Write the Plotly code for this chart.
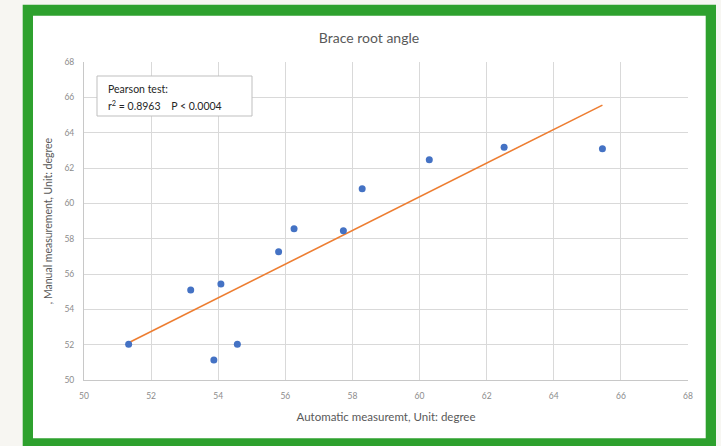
import numpy as np
import plotly.graph_objects as go

# Automatic vs. manual brace root angle measurements (degrees)
auto_deg = [51.33, 53.87, 54.57, 53.18, 54.08, 55.80, 56.26, 57.73, 58.29, 60.29, 62.52, 65.45]
manual_deg = [52.02, 51.13, 52.02, 55.09, 55.43, 57.26, 58.56, 58.45, 60.83, 62.47, 63.17, 63.09]
tick_vals = [50, 52, 54, 56, 58, 60, 62, 64, 66, 68]

# Least-squares trend line across the range of the automatic values
slope, intercept = np.polyfit(auto_deg, manual_deg, 1)
trend_x = [min(auto_deg), max(auto_deg)]
trend_y = [slope * v + intercept for v in trend_x]

W, H = 721, 446
ML, MR, MT, MB = 84, 33, 62, 66
PW, PH = W - ML - MR, H - MT - MB


def px(x):
    return (x - ML) / PW


def py(y):
    return (H - MB - y) / PH


fig = go.Figure()
fig.add_trace(go.Scatter(x=trend_x, y=trend_y, mode="lines",
                         line=dict(color="#ED7D31", width=1.6), hoverinfo="skip"))
fig.add_trace(go.Scatter(x=auto_deg, y=manual_deg, mode="markers",
                         marker=dict(color="#4472C4", size=7)))

font_family = "Lato, 'Open Sans', sans-serif"
axis_common = dict(range=[50, 68], tickvals=tick_vals, showgrid=True, gridcolor="#d9d9d9",
                   gridwidth=1, zeroline=False, showline=True, linecolor="#c8c8c8",
                   ticks="outside", tickcolor="rgba(0,0,0,0)",
                   tickfont=dict(size=8.5, color="#8c8c8c", family=font_family), fixedrange=True)

fig.update_layout(
    width=W, height=H,
    margin=dict(l=ML, r=MR, t=MT, b=MB),
    paper_bgcolor="#f7f6f2",
    plot_bgcolor="white",
    showlegend=False,
    font=dict(family=font_family),
    xaxis=dict(**axis_common, ticklen=8,
               title=dict(text="Automatic measuremt, Unit: degree",
                          font=dict(size=11.5, color="#595959"), standoff=12)),
    yaxis=dict(**axis_common, ticklen=7,
               title=dict(text=", Manual measurement, Unit: degree",
                          font=dict(size=10.5, color="#595959"), standoff=9)),
    title=dict(text="Brace root angle", x=369 / W, xanchor="center",
               y=1 - 38 / H, yanchor="middle",
               font=dict(size=14, color="#595959", family=font_family)),
)

# Green frame and white panel behind the chart
fig.add_shape(type="rect", xref="paper", yref="paper", layer="below",
              x0=px(22.7), x1=px(716), y0=py(470), y1=py(4.7),
              fillcolor="#2ea12e", line=dict(width=0))
fig.add_shape(type="rect", xref="paper", yref="paper", layer="below",
              x0=px(33), x1=px(705.7), y0=py(438.3), y1=py(15.7),
              fillcolor="white", line=dict(width=0))

# Statistics box
fig.add_shape(type="rect", xref="paper", yref="paper",
              x0=px(97), x1=px(252), y0=py(116), y1=py(76),
              fillcolor="white", line=dict(color="#bfbfbf", width=1))
fig.add_annotation(xref="paper", yref="paper", x=px(106), y=py(89),
                   xanchor="left", yanchor="middle", showarrow=False,
                   text="Pearson test:", font=dict(size=10.5, color="#262626", family=font_family))
fig.add_annotation(xref="paper", yref="paper", x=px(106), y=py(105),
                   xanchor="left", yanchor="middle", showarrow=False,
                   text="r<sup>2</sup> = 0.8963&nbsp;&nbsp;&nbsp;&nbsp;P &lt; 0.0004",
                   font=dict(size=10.5, color="#262626", family=font_family))

fig.write_html("out.html")
